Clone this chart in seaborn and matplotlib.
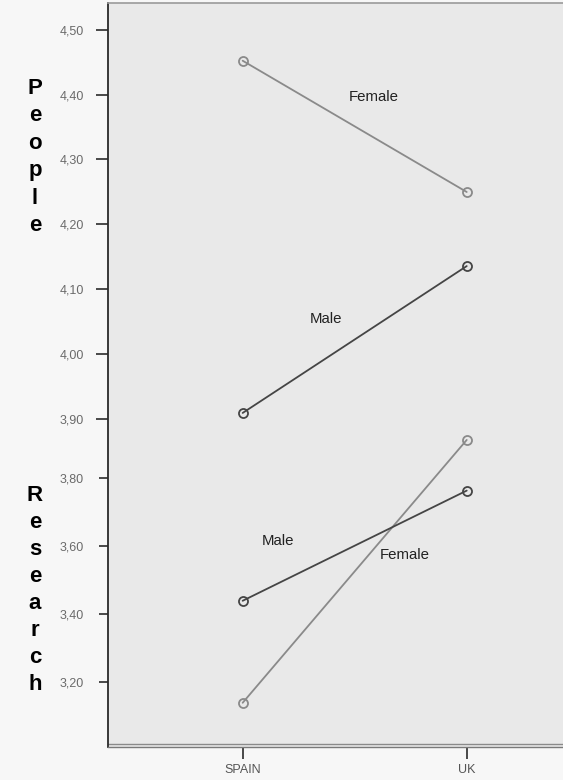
import numpy as np
import matplotlib
matplotlib.use("Agg")
import matplotlib.pyplot as plt
import seaborn as sns

countries = ["SPAIN", "UK"]
people_female = [4.452, 4.250]
people_male = [3.910, 4.136]
research_female = [3.139, 3.912]
research_male = [3.439, 3.763]

people_ticks = [3.90, 4.00, 4.10, 4.20, 4.30, 4.40, 4.50]
research_ticks = [3.20, 3.40, 3.60, 3.80]

sns.set_style("white")
plt.rcParams["font.family"] = ["Liberation Sans", "DejaVu Sans"]

female_col = "#8a8a8a"
male_col = "#454545"

fig = plt.figure(figsize=(5.63, 7.8), dpi=100, facecolor="#f7f7f7")
rect = [108 / 563, 33 / 780, 1 - 108 / 563 + 0.02, 744 / 780]
ax = fig.add_axes(rect, facecolor="#e9e9e9")
ax2 = fig.add_axes(rect, facecolor="none", sharex=ax)

def draw(axis, vals, col):
    sns.lineplot(x=countries, y=vals, color=col, marker="o", ms=6.5,
                 mfc="none", mec=col, mew=1.3, lw=1.3, ax=axis)

draw(ax, people_female, female_col)
draw(ax, people_male, male_col)
draw(ax2, research_female, female_col)
draw(ax2, research_male, male_col)

ax.set_xlim(-0.601, 1.48)
ax.set_ylim(3.396, 4.5408)
ax2.set_ylim(3.009, 5.197)

ax.set_yticks(people_ticks)
ax.set_yticklabels([f"{t:.2f}".replace(".", ",") for t in people_ticks])
ax2.set_yticks(research_ticks)
ax2.set_yticklabels([f"{t:.2f}".replace(".", ",") for t in research_ticks])

ax.tick_params(axis="y", direction="out", length=9, width=1.2, color="#2a2a2a",
               labelsize=9, labelcolor="#6a6a6a", pad=8.5, left=True)
ax2.tick_params(axis="y", direction="out", length=6.5, width=1.2, color="#2a2a2a",
                labelsize=9, labelcolor="#6a6a6a", pad=11, left=True)
ax.tick_params(axis="x", direction="out", length=8.5, width=1.2, color="#2a2a2a",
               labelsize=9, labelcolor="#555555", pad=4, bottom=True)
ax2.tick_params(axis="x", bottom=False, labelbottom=False)

ax.set_xlabel("")
ax.set_ylabel("")
ax2.set_xlabel("")
ax2.set_ylabel("")

for s in ax2.spines.values():
    s.set_visible(False)
ax.spines["right"].set_visible(False)
ax.spines["top"].set_color("#9a9a9a")
ax.spines["top"].set_linewidth(1.2)
ax.spines["left"].set_color("#2a2a2a")
ax.spines["left"].set_linewidth(1.3)
ax.spines["bottom"].set_color("#7a7a7a")
ax.spines["bottom"].set_linewidth(1.0)
ax.plot([0, 1], [0.0045, 0.0045], transform=ax.transAxes, color="#8a8a8a",
        lw=1.0, clip_on=False)

ax.text(0.586, 4.396, "Female", fontsize=10.8, color="#222222", ha="center", va="center")
ax.text(0.372, 4.055, "Male", fontsize=10.8, color="#222222", ha="center", va="center")
ax2.text(0.158, 3.615, "Male", fontsize=10.8, color="#222222", ha="center", va="center")
ax2.text(0.725, 3.574, "Female", fontsize=10.8, color="#222222", ha="center", va="center")

for i, ch in enumerate("People"):
    fig.text(35 / 563, 1 - (94 + 27.4 * i) / 780, ch, fontsize=16,
             fontweight="bold", ha="center", va="baseline", color="black")
for i, ch in enumerate("Research"):
    fig.text(35 / 563, 1 - (500.7 + 27.0 * i) / 780, ch, fontsize=16,
             fontweight="bold", ha="center", va="baseline", color="black")

fig.savefig("out.png", dpi=100, facecolor=fig.get_facecolor())
